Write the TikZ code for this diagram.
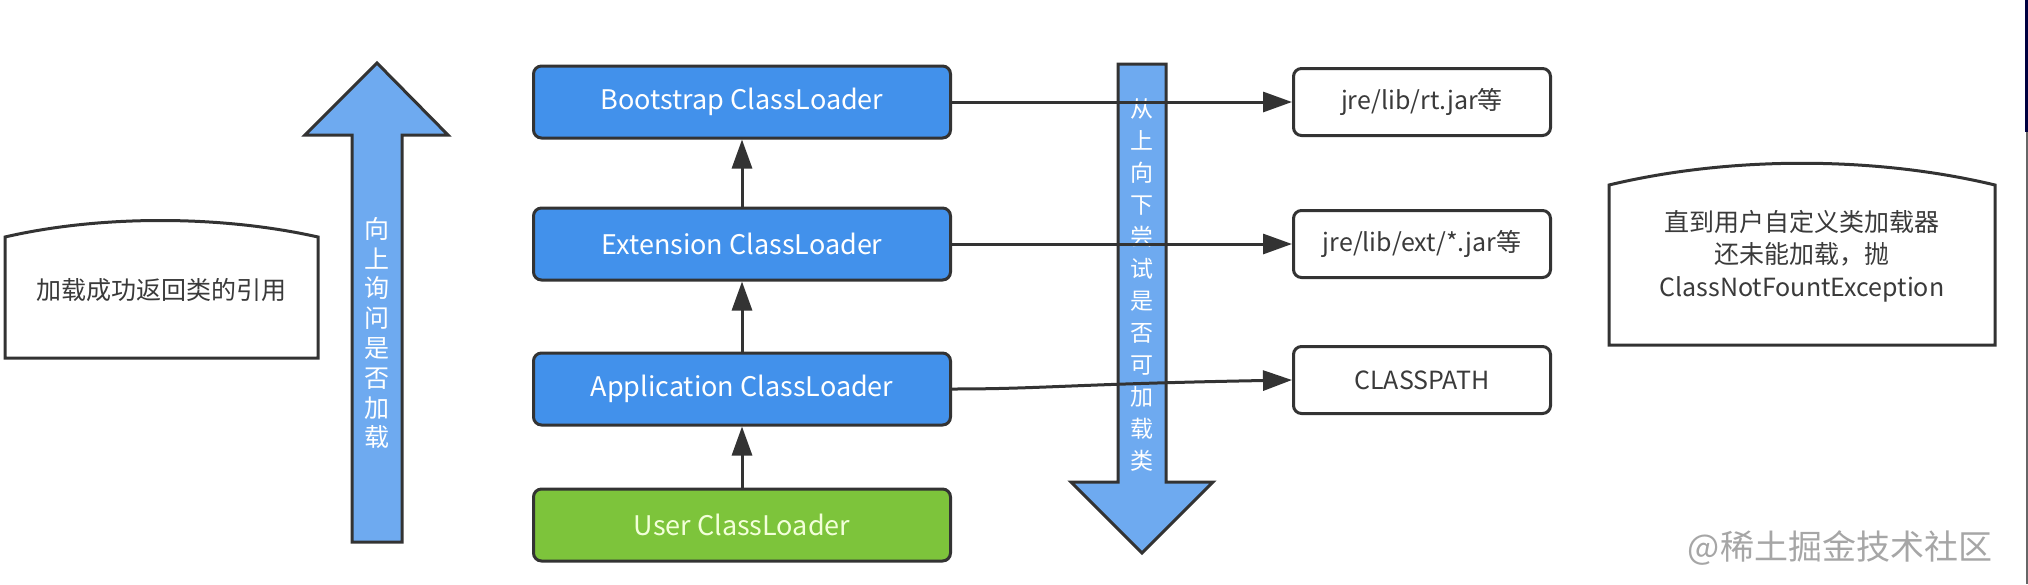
\documentclass[tikz,border=0pt]{standalone}
\usepackage{fontspec}
\setmainfont{Noto Sans CJK SC}
\usetikzlibrary{arrows.meta}
\definecolor{boxblue}{HTML}{4291EB}
\definecolor{arrowblue}{HTML}{6EAAF0}
\definecolor{boxgreen}{HTML}{7DC43B}
\definecolor{linegray}{HTML}{333333}
\definecolor{textgray}{HTML}{3A3A3A}
\definecolor{greentext}{HTML}{F2FFD9}
\begin{document}
\begin{tikzpicture}[x=1pt,y=-1pt,
  loader/.style={draw=linegray, line width=3pt, rounded corners=8pt, minimum width=417pt, minimum height=72pt, text=white, font=\fontsize{27}{32}\selectfont, inner sep=0pt},
  pathbox/.style={draw=linegray, line width=3pt, rounded corners=8pt, fill=white, minimum width=257pt, minimum height=67pt, text=textgray, font=\fontsize{25}{30}\selectfont, inner sep=0pt},
  conn/.style={draw=linegray, line width=3pt, -{Triangle[length=29pt,width=20pt]}},
  bigarrow/.style={draw=linegray, line width=3pt, fill=arrowblue, line join=miter},
  note/.style={draw=linegray, line width=3pt, fill=white},
  vtext/.style={text=white, align=center, inner sep=0pt},
  notetext/.style={text=textgray, align=center, inner sep=0pt, font=\fontsize{25}{32}\selectfont},
]
\useasboundingbox (0,0) rectangle (2028,584);
\fill[white] (0,0) rectangle (2028,584);

% big arrows
\draw[bigarrow] (352,542) -- (352,135) -- (305,135) -- (377,63) -- (448,135) -- (402,135) -- (402,542) -- cycle;
\draw[bigarrow] (1118,64) -- (1166,64) -- (1166,482) -- (1213,482) -- (1142,553) -- (1071,482) -- (1118,482) -- cycle;
\node[vtext, font=\fontsize{25}{29.8}\selectfont] (uptext) at (377,333) {向\\上\\询\\问\\是\\否\\加\\载};
\node[vtext, font=\fontsize{23}{32}\selectfont] (downtext) at (1142,285) {从\\上\\向\\下\\尝\\试\\是\\否\\可\\加\\载\\类};

% notes
\draw[note] (5,358) -- (5,237) .. controls (100,215) and (220,215) .. (318,237) -- (318,358) -- cycle;
\node[notetext] (lefttext) at (161,290) {加载成功返回类的引用};
\draw[note] (1609,345) -- (1609,185) .. controls (1730,156) and (1874,156) .. (1995,185) -- (1995,345) -- cycle;
\node[notetext, font=\fontsize{25}{32.5}\selectfont] (righttext) at (1802,256) {直到用户自定义类加载器\\还未能加载，抛\\ClassNotFountException};

% loaders
\node[loader, fill=boxblue] (boot) at (742,102) {Bootstrap ClassLoader};
\node[loader, fill=boxblue] (ext) at (742,244) {Extension ClassLoader};
\node[loader, fill=boxblue] (app) at (742,389) {Application ClassLoader};
\node[loader, fill=boxgreen, text=greentext] (user) at (742,525) {User ClassLoader};

% paths
\node[pathbox] (rt) at (1422,102) {jre/lib/rt.jar等};
\node[pathbox] (extjar) at (1422,244) {jre/lib/ext/*.jar等};
\node[pathbox] (cp) at (1422,380) {CLASSPATH};

% connectors
\draw[conn] (user.north) -- (app.south);
\draw[conn] (app.north) -- (ext.south);
\draw[conn] (ext.north) -- (boot.south);
\draw[conn] (boot.east) -- (rt.west);
\draw[conn] (ext.east) -- (extjar.west);
\draw[conn] (app.east) .. controls +(90,0) and +(-220,4) .. (cp.west);

% watermark
\node[text=black!35, inner sep=0pt, font=\fontsize{34}{40}\selectfont] (mark) at (1840,548) {@稀土掘金技术社区};

% right edge strip
\fill[black!75!blue] (2025,0) rectangle (2028,132);
\fill[black!60] (2026,132) rectangle (2028,584);
\end{tikzpicture}
\end{document}
